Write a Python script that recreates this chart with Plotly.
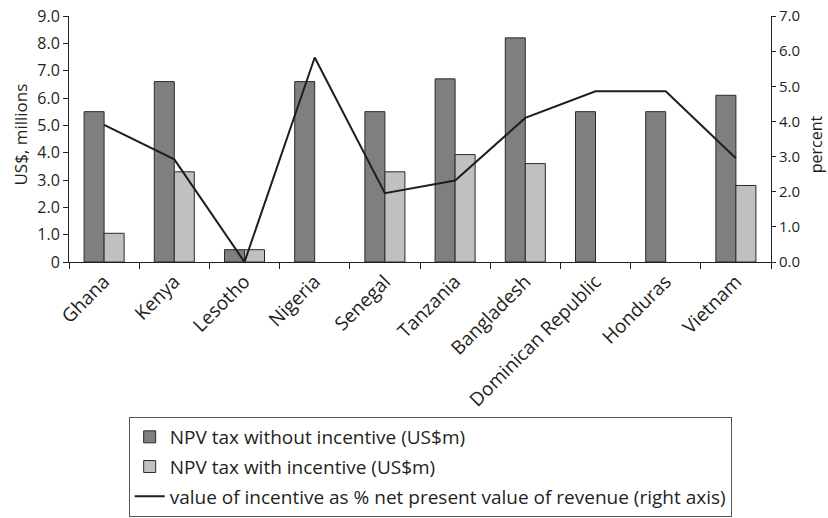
import plotly.graph_objects as go

countries = ["Ghana", "Kenya", "Lesotho", "Nigeria", "Senegal", "Tanzania",
             "Bangladesh", "Dominican Republic", "Honduras", "Vietnam"]
npv_without = [5.5, 6.6, 0.45, 6.6, 5.5, 6.7, 8.2, 5.5, 5.5, 6.1]
npv_with = [1.05, 3.3, 0.45, None, 3.3, 3.93, 3.6, None, None, 2.8]
pct_value = [3.9, 2.92, 0.0, 5.82, 1.96, 2.32, 4.1, 4.86, 4.86, 2.95]

left_ticks = [0, 1, 2, 3, 4, 5, 6, 7, 8, 9]
left_labels = ["0", "1.0", "2.0", "3.0", "4.0", "5.0", "6.0", "7.0", "8.0", "9.0"]
right_ticks = [0, 1, 2, 3, 4, 5, 6, 7]
right_labels = ["0.0", "1.0", "2.0", "3.0", "4.0", "5.0", "6.0", "7.0"]
left_title = "US$, millions"
right_title = "percent"

FONT = "Open Sans"
INK = "#231f20"
fig = go.Figure()
fig.add_trace(go.Bar(x=countries, y=npv_without, name="NPV tax without incentive (US$m)",
                     marker=dict(color="#7e7f81", line=dict(color="#2b2b2b", width=1)),
                     legendgroup="a"))
fig.add_trace(go.Bar(x=countries, y=npv_with, name="NPV tax with incentive (US$m)",
                     marker=dict(color="#bfc0c2", line=dict(color="#2b2b2b", width=1)),
                     legendgroup="b"))
fig.add_trace(go.Scatter(x=countries, y=pct_value, yaxis="y2", mode="lines",
                         name="value of incentive as % net present value of revenue (right axis)",
                         line=dict(color="#1e1e1e", width=2), legendgroup="c"))

fig.update_layout(
    width=828, height=518,
    margin=dict(l=69, r=57, t=16, b=256, autoexpand=False),
    paper_bgcolor="white", plot_bgcolor="white",
    font=dict(family=FONT, size=16, color=INK),
    barmode="group", bargap=0.43, bargroupgap=0,
    xaxis=dict(type="category", showline=True, linecolor=INK, linewidth=1,
               ticks="outside", tickson="boundaries", ticklen=6, tickcolor=INK,
               tickangle=-45, tickfont=dict(size=19), showgrid=False, automargin=False),
    yaxis=dict(range=[0, 9], tickvals=left_ticks, ticktext=left_labels,
               showline=True, linecolor=INK, ticks="outside", ticklen=5,
               tickcolor=INK, showgrid=False, zeroline=False, automargin=False,
               ticklabeloverflow="allow", tickfont=dict(size=16)),
    yaxis2=dict(range=[0, 7], tickvals=right_ticks, ticktext=right_labels,
                overlaying="y", side="right", showline=True, linecolor=INK,
                ticks="outside", ticklen=4, tickcolor=INK, showgrid=False,
                zeroline=False, automargin=False, ticklabeloverflow="allow",
                tickfont=dict(size=15)),
    legend=dict(x=0.085, y=-0.630, xanchor="left", yanchor="top",
                bordercolor="#555555", borderwidth=1, bgcolor="white",
                font=dict(size=19), traceorder="grouped", tracegroupgap=2),
    showlegend=True,
    annotations=[
        dict(text=left_title, xref="paper", yref="paper", x=-0.0695, y=0.519,
             xanchor="center", yanchor="middle", textangle=-90, showarrow=False,
             font=dict(size=17)),
        dict(text=right_title, xref="paper", yref="paper", x=1.0645, y=0.48,
             xanchor="center", yanchor="middle", textangle=-90, showarrow=False,
             font=dict(size=16)),
    ],
)

fig.write_html("out.html", config={"displayModeBar": False},
               post_script="document.body.style.margin='0';")
